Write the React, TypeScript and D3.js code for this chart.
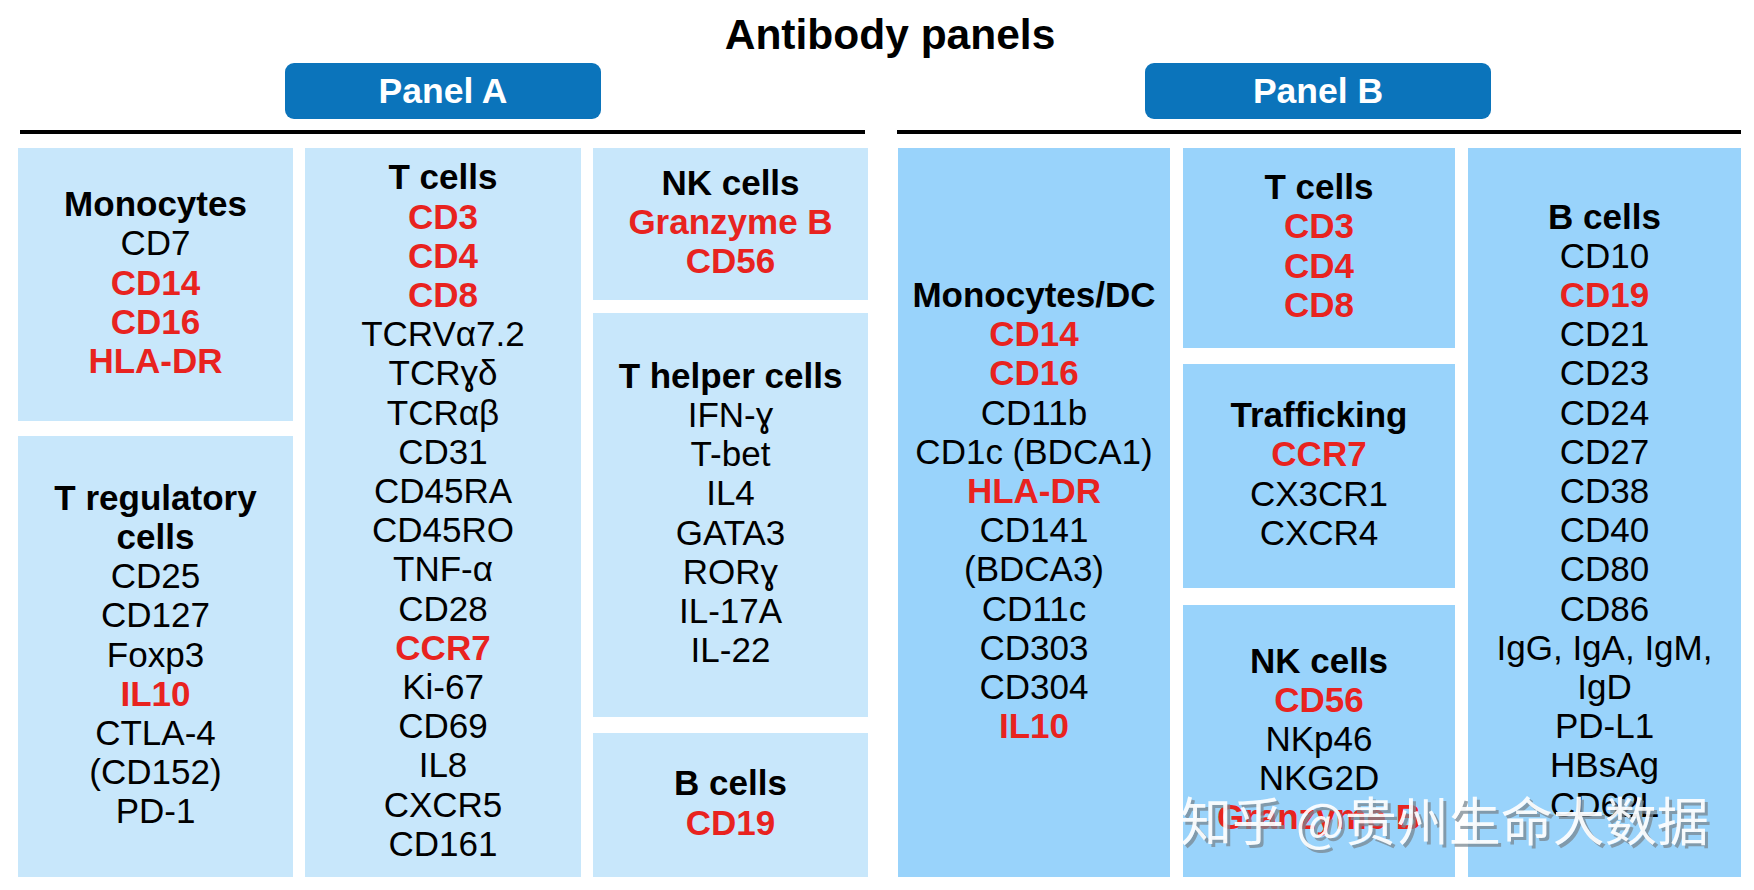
import React from "react";
import * as d3 from "d3";

// ---------- DATA ----------
const chartTitle = "Antibody panels";
const panelNames = ["Panel A", "Panel B"];

const monocytesA = ["Monocytes"];
const monocytesAMarkers = ["CD7", "CD14", "CD16", "HLA-DR"];
const tregA = ["T regulatory", "cells"];
const tregAMarkers = ["CD25", "CD127", "Foxp3", "IL10", "CTLA-4", "(CD152)", "PD-1"];
const tcellsA = ["T cells"];
const tcellsAMarkers = ["CD3", "CD4", "CD8", "TCRVα7.2", "TCRɣδ", "TCRαβ", "CD31", "CD45RA", "CD45RO", "TNF-α", "CD28", "CCR7", "Ki-67", "CD69", "IL8", "CXCR5", "CD161"];
const nkA = ["NK cells"];
const nkAMarkers = ["Granzyme B", "CD56"];
const thA = ["T helper cells"];
const thAMarkers = ["IFN-ɣ", "T-bet", "IL4", "GATA3", "RORɣ", "IL-17A", "IL-22"];
const bA = ["B cells"];
const bAMarkers = ["CD19"];

const monoB = ["Monocytes/DC"];
const monoBMarkers = ["CD14", "CD16", "CD11b", "CD1c (BDCA1)", "HLA-DR", "CD141", "(BDCA3)", "CD11c", "CD303", "CD304", "IL10"];
const tcellsB = ["T cells"];
const tcellsBMarkers = ["CD3", "CD4", "CD8"];
const traffB = ["Trafficking"];
const traffBMarkers = ["CCR7", "CX3CR1", "CXCR4"];
const nkB = ["NK cells"];
const nkBMarkers = ["CD56", "NKp46", "NKG2D", "Granzyme B"];
const bB = ["B cells"];
const bBMarkers = ["CD10", "CD19", "CD21", "CD23", "CD24", "CD27", "CD38", "CD40", "CD80", "CD86", "IgG, IgA, IgM,", "IgD", "PD-L1", "HBsAg", "CD62L"];

const highlighted = ["CD3", "CD4", "CD8", "CD14", "CD16", "HLA-DR", "IL10", "CCR7", "Granzyme B", "CD56", "CD19"];

const watermark = "知乎 @贵州生命大数据";

// ---------- LAYOUT ----------
const W = 1754;
const H = 890;
const LINE = 39.2;
const FONT = 35;
const DY = -2.5;
const COL_A = "#c8e7fb";
const COL_B = "#99d3fb";
const RED = "#e8231f";
const BLUE = "#0b74bb";
const FF = "'Liberation Sans', Arial, Helvetica, sans-serif";

type Box = { x0: number; x1: number; y0: number; y1: number; fill: string; title: string[]; markers: string[] };

const boxes: Box[] = [
  { x0: 18, x1: 293, y0: 148, y1: 421, fill: COL_A, title: monocytesA, markers: monocytesAMarkers },
  { x0: 18, x1: 293, y0: 436, y1: 877, fill: COL_A, title: tregA, markers: tregAMarkers },
  { x0: 305, x1: 581, y0: 148, y1: 877, fill: COL_A, title: tcellsA, markers: tcellsAMarkers },
  { x0: 593, x1: 868, y0: 148, y1: 300, fill: COL_A, title: nkA, markers: nkAMarkers },
  { x0: 593, x1: 868, y0: 313, y1: 717, fill: COL_A, title: thA, markers: thAMarkers },
  { x0: 593, x1: 868, y0: 733, y1: 877, fill: COL_A, title: bA, markers: bAMarkers },
  { x0: 898, x1: 1170, y0: 148, y1: 877, fill: COL_B, title: monoB, markers: monoBMarkers },
  { x0: 1183, x1: 1455, y0: 148, y1: 348, fill: COL_B, title: tcellsB, markers: tcellsBMarkers },
  { x0: 1183, x1: 1455, y0: 364, y1: 588, fill: COL_B, title: traffB, markers: traffBMarkers },
  { x0: 1183, x1: 1455, y0: 605, y1: 877, fill: COL_B, title: nkB, markers: nkBMarkers },
  { x0: 1468, x1: 1741, y0: 148, y1: 877, fill: COL_B, title: bB, markers: bBMarkers },
];

const headers = [
  { x0: 285, x1: 601, y0: 63, y1: 119, lx0: 20, lx1: 865 },
  { x0: 1145, x1: 1491, y0: 63, y1: 119, lx0: 897, lx1: 1741 },
];

export default function App() {
  return (
    <svg width={W} height={H} style={{ position: "absolute", left: 0, top: 0, background: "#fff" }} fontFamily={FF}>
      <rect x={0} y={0} width={W} height={H} fill="#fff" />
      <text x={890} y={34} textAnchor="middle" dominantBaseline="central" fontSize={42.5} fontWeight="bold" fill="#000">
        {chartTitle}
      </text>
      {headers.map((h, i) => (
        <g key={"h" + i}>
          <rect x={h.x0} y={h.y0} width={h.x1 - h.x0} height={h.y1 - h.y0} rx={9} fill={BLUE} />
          <text x={(h.x0 + h.x1) / 2} y={(h.y0 + h.y1) / 2} textAnchor="middle" dominantBaseline="central" fontSize={35.5} fontWeight="bold" fill="#fff">
            {panelNames[i]}
          </text>
          <line x1={h.lx0} x2={h.lx1} y1={132} y2={132} stroke="#000" strokeWidth={4} />
        </g>
      ))}
      {boxes.map((b, i) => {
        const lines = [...b.title.map((t) => ({ t, kind: "title" })), ...b.markers.map((t) => ({ t, kind: highlighted.includes(t) ? "red" : "plain" }))];
        const n = lines.length;
        const cy = (b.y0 + b.y1) / 2 + DY;
        const y = d3.scaleLinear().domain([0, n - 1]).range([cy - ((n - 1) / 2) * LINE, cy + ((n - 1) / 2) * LINE]);
        const cx = (b.x0 + b.x1) / 2;
        return (
          <g key={"b" + i}>
            <rect x={b.x0} y={b.y0} width={b.x1 - b.x0} height={b.y1 - b.y0} fill={b.fill} />
            {lines.map((l, j) => (
              <text
                key={j}
                x={cx}
                y={n === 1 ? cy : y(j)}
                textAnchor="middle"
                dominantBaseline="central"
                fontSize={FONT}
                fontWeight={l.kind === "plain" ? "normal" : "bold"}
                fill={l.kind === "red" ? RED : "#000"}
              >
                {l.t}
              </text>
            ))}
          </g>
        );
      })}
      <g fontFamily="'Noto Sans CJK SC', sans-serif" fontSize={52}>
        <text x={1183} y={821} dominantBaseline="central" fill="#7a8791" opacity={0.75}>
          {watermark}
        </text>
        <text x={1180} y={818} dominantBaseline="central" fill="#fff" opacity={0.92}>
          {watermark}
        </text>
      </g>
    </svg>
  );
}
